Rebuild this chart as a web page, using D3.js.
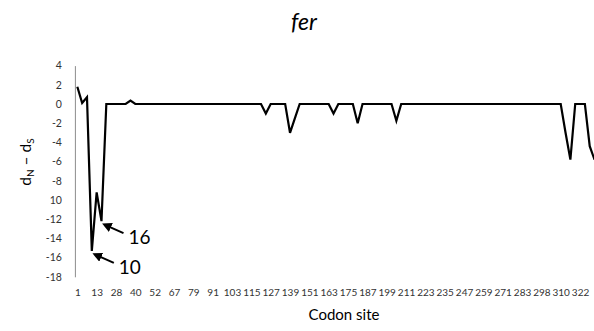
<!DOCTYPE html>
<html>
<head>
<meta charset="utf-8">
<script src="https://cdn.jsdelivr.net/npm/d3@7"></script>
<style>
  body { margin: 0; background: #fff; }
  svg { display: block; font-family: Lato, "Open Sans", sans-serif; }
</style>
</head>
<body>
<div id="chart"></div>
<script>
const width = 594;
const height = 331;

// category axis: one label every 4th codon-site category
const xTickSites = [1, 13, 28, 40, 52, 67, 79, 91, 103, 115, 127, 139, 151, 163,
  175, 187, 199, 211, 223, 235, 247, 259, 271, 283, 298, 310, 322];
const labelEvery = 4;
const nCategories = 108;

// y ticks (the -10 label shows up without its minus sign in the original)
const yTicks = [4, 2, 0, -2, -4, -6, -8, -10, -12, -14, -16, -18];
const yTickLabels = ["4", "2", "0", "-2", "-4", "-6", "-8", "10", "-12", "-14", "-16", "-18"];

// categories where dN - dS is not zero (everything else sits at 0)
const changedIdx = [0, 1, 2, 3, 4, 5, 11, 39, 44, 45, 53, 58, 66, 101, 102, 106, 107];
const changedVal = [1.8, 0.1, 0.7, -15.3, -9.2, -12.2, 0.35, -1.0, -3.0, -1.5, -1.0, -2.0, -1.75, -3.0, -5.8, -4.4, -5.8];

// labelled sites: arrow + text pointing at a category
const callouts = [
  { idx: 3, text: "10" },
  { idx: 5, text: "16" }
];

const valueByIdx = new Map(changedIdx.map((d, i) => [d, changedVal[i]]));
const series = d3.range(nCategories).map((i) => ({ i, v: valueByIdx.get(i) ?? 0 }));

const svg = d3.select("#chart").append("svg")
  .attr("width", width)
  .attr("height", height);

const x = d3.scaleLinear()
  .domain([-0.5, nCategories - 0.5])
  .range([74.9, 74.9 + nCategories * 4.834]);

const y = d3.scaleLinear()
  .domain([-18, 4])
  .range([276.8, 65.6]);

// arrow marker
svg.append("defs").append("marker")
  .attr("id", "head")
  .attr("viewBox", "0 0 10 10")
  .attr("refX", 1)
  .attr("refY", 5)
  .attr("markerWidth", 4.8)
  .attr("markerHeight", 4.8)
  .attr("orient", "auto-start-reverse")
  .append("path")
  .attr("d", "M0,0 L10,5 L0,10 Z")
  .attr("fill", "#000");

// title
svg.append("text")
  .attr("x", 304)
  .attr("y", 30)
  .attr("text-anchor", "middle")
  .attr("font-size", 23)
  .attr("font-style", "italic")
  .attr("fill", "#000")
  .text("fer");

// y axis (line + labels, no tick marks)
const yAxis = svg.append("g")
  .attr("transform", `translate(${x.range()[0]},0)`)
  .call(d3.axisLeft(y).tickValues(yTicks).tickSize(0).tickPadding(13)
    .tickFormat((d, i) => yTickLabels[i]));
yAxis.select(".domain").attr("stroke", "#8c8c8c").attr("stroke-width", 1);
yAxis.selectAll("text").attr("font-size", 10.5).attr("fill", "#333")
  .attr("font-family", "Lato, 'Open Sans', sans-serif");

// x labels (no axis line drawn)
const xAxis = svg.append("g")
  .attr("transform", `translate(0,${y(-18) + 9})`)
  .call(d3.axisBottom(x)
    .tickValues(xTickSites.map((d, i) => i * labelEvery))
    .tickSize(0)
    .tickFormat((d, i) => xTickSites[i]));
xAxis.select(".domain").remove();
xAxis.selectAll("text").attr("font-size", 10).attr("fill", "#333")
  .attr("font-family", "Lato, 'Open Sans', sans-serif");

// axis titles
svg.append("text")
  .attr("x", 344)
  .attr("y", 320)
  .attr("text-anchor", "middle")
  .attr("font-size", 15)
  .attr("fill", "#000")
  .text("Codon site");

const yTitle = svg.append("text")
  .attr("transform", "translate(31,162) rotate(-90)")
  .attr("text-anchor", "middle")
  .attr("font-size", 15.5)
  .attr("fill", "#000");
yTitle.append("tspan").text("d");
yTitle.append("tspan").attr("font-size", 10).attr("dy", 3).text("N");
yTitle.append("tspan").attr("dy", -3).text(" \u2013 d");
yTitle.append("tspan").attr("font-size", 10).attr("dy", 3).text("S");

// the dN - dS line
svg.append("path")
  .datum(series)
  .attr("fill", "none")
  .attr("stroke", "#000")
  .attr("stroke-width", 2.2)
  .attr("stroke-linejoin", "miter")
  .attr("d", d3.line().x((d) => x(d.i)).y((d) => y(d.v)));

// callouts
callouts.forEach((c) => {
  const px = x(c.idx);
  const py = y(valueByIdx.get(c.idx) ?? 0);
  const hx = px + 4, hy = py + 4;
  svg.append("line")
    .attr("x1", hx + 18).attr("y1", hy + 8)
    .attr("x2", hx + 4.5).attr("y2", hy + 2)
    .attr("stroke", "#000")
    .attr("stroke-width", 2)
    .attr("marker-end", "url(#head)");
  svg.append("text")
    .attr("x", hx + 23)
    .attr("y", hy + 19)
    .attr("font-size", 19)
    .attr("fill", "#000")
    .text(c.text);
});
</script>
</body>
</html>
